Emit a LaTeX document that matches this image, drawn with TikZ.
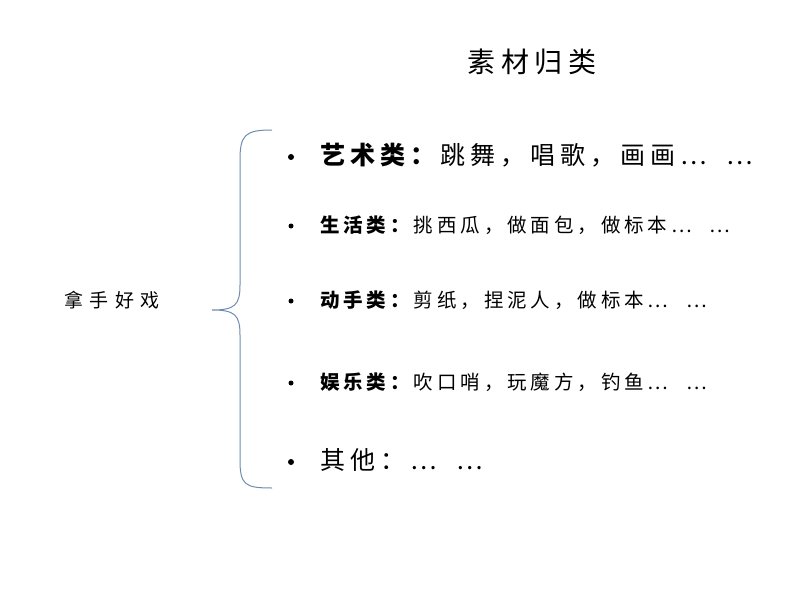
\documentclass[tikz,border=0pt]{standalone}
\usepackage{fontspec}
\newfontfamily\cjk[LetterSpace=20]{Noto Sans CJK SC}
\newfontfamily\cjkw[LetterSpace=32]{Noto Sans CJK SC}
\begin{document}
\begin{tikzpicture}[x=1pt,y=-1pt,
  big/.style={anchor=west,inner sep=0,font=\cjk\fontsize{25}{28}\selectfont},
  small/.style={anchor=west,inner sep=0,font=\cjk\fontsize{19.5}{22}\selectfont},
  dot/.style={circle,fill=black,inner sep=0,minimum size=6pt}]
\useasboundingbox (0,0) rectangle (794,596);
\node[inner sep=0,font=\cjk\fontsize{28}{32}\selectfont] (title) at (532,62) {素材归类};
\node[inner sep=0,font=\cjkw\fontsize{19}{22}\selectfont] (root) at (112,300) {拿手好戏};
\coordinate (top) at (272,130);
\coordinate (bot) at (272,488);
\coordinate (tip) at (212,310);
\draw[color={rgb,255:red,110;green,140;blue,175},line width=1pt]
  (top) .. controls (245,130) and (240,135) .. (240,160) -- (240,285)
  .. controls (240,305) and (235,310) .. (tip)
  .. controls (235,310) and (240,315) .. (240,335) -- (240,460)
  .. controls (240,485) and (245,488) .. (bot);
\node[dot] (b1) at (291,157) {}; \node[big] (t1) at (320,155) {\textbf{艺术类：}跳舞，唱歌，画画…\hspace{20pt}…};
\node[dot,minimum size=5pt] (b2) at (291,226) {}; \node[small] (t2) at (320,225) {\textbf{生活类：}挑西瓜，做面包，做标本…\hspace{18pt}…};
\node[dot,minimum size=5pt] (b3) at (291,301) {}; \node[small] (t3) at (320,300) {\textbf{动手类：}剪纸，捏泥人，做标本…\hspace{18pt}…};
\node[dot,minimum size=5pt] (b4) at (291,383) {}; \node[small] (t4) at (320,382) {\textbf{娱乐类：}吹口哨，玩魔方，钓鱼…\hspace{18pt}…};
\node[dot] (b5) at (291,462) {}; \node[big] (t5) at (320,460) {其他：…\hspace{20pt}…};
\end{tikzpicture}
\end{document}
